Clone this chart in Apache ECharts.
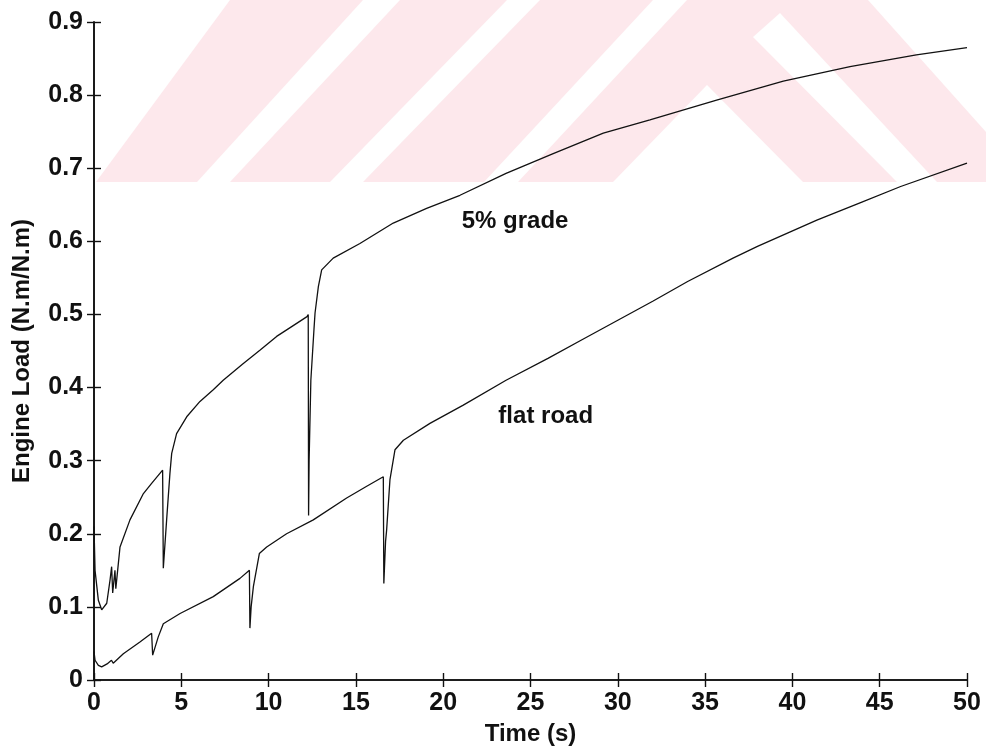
<!DOCTYPE html>
<html>
<head>
<meta charset="utf-8">
<script src="https://cdn.jsdelivr.net/npm/echarts@6/dist/echarts.min.js"></script>
<style>
  html, body { margin: 0; padding: 0; background: #ffffff; }
  #chart { width: 986px; height: 752px; }
</style>
</head>
<body>
<div id="chart"></div>
<script>
// Engine load vs. time for a vehicle accelerating on a 5% grade and on a flat road
const xTicks = [0, 5, 10, 15, 20, 25, 30, 35, 40, 45, 50];
const yTicks = [0, 0.1, 0.2, 0.3, 0.4, 0.5, 0.6, 0.7, 0.8, 0.9];

// 5% grade run
const timeGrade = [0, 0.06, 0.25, 0.44, 0.73, 0.92, 1.01, 1.07, 1.2, 1.25, 1.49, 2.06, 2.83, 3.3, 3.93, 3.97,
  4.16, 4.35, 4.45, 4.73, 5.31, 6.07, 6.83, 7.4, 8.5, 9.5, 10.46, 11.3, 12.2, 12.27, 12.29, 12.32, 12.42,
  12.6, 12.66, 12.85, 13.04, 13.7, 15.23, 17.14, 19.05, 20.96, 23.6, 26.3, 29.17, 31.84, 35.66, 39.48,
  43.3, 47.1, 50];
const loadGrade = [0.21, 0.15, 0.109, 0.096, 0.105, 0.137, 0.155, 0.119, 0.15, 0.125, 0.182, 0.219, 0.255,
  0.269, 0.287, 0.153, 0.219, 0.283, 0.31, 0.337, 0.36, 0.381, 0.397, 0.41, 0.432, 0.451, 0.47, 0.483,
  0.497, 0.5, 0.225, 0.3, 0.41, 0.48, 0.502, 0.538, 0.561, 0.577, 0.597, 0.625, 0.645, 0.663, 0.693, 0.72,
  0.748, 0.766, 0.793, 0.819, 0.839, 0.855, 0.865];

// flat road run
const timeFlat = [0, 0.06, 0.25, 0.44, 0.75, 1.0, 1.1, 1.68, 2.63, 3.3, 3.36, 3.5, 3.68, 3.97, 4.93, 6.83,
  8.36, 8.9, 8.93, 9.0, 9.13, 9.47, 9.89, 11.03, 12.56, 14.47, 15.62, 16.57, 16.6, 16.7, 16.76, 16.95,
  17.24, 17.72, 19.24, 21.15, 23.6, 26, 28, 30, 32, 34, 36.6, 38, 41.4, 43.8, 46.2, 50];
const loadFlat = [0.039, 0.027, 0.02, 0.018, 0.022, 0.027, 0.023, 0.036, 0.052, 0.064, 0.034, 0.045, 0.059,
  0.077, 0.091, 0.114, 0.139, 0.15, 0.071, 0.1, 0.128, 0.173, 0.182, 0.2, 0.219, 0.249, 0.265, 0.278,
  0.132, 0.19, 0.205, 0.274, 0.315, 0.328, 0.351, 0.376, 0.41, 0.44, 0.466, 0.492, 0.518, 0.545, 0.577,
  0.593, 0.629, 0.652, 0.675, 0.707];

// curve annotations: text, time, load (left edge, vertical centre)
const notes = [
  { text: '5% grade', t: 21.06, v: 0.627 },
  { text: 'flat road', t: 23.16, v: 0.36 }
];

const FONT = '"Liberation Sans", Arial, Helvetica, sans-serif';
const INK = '#111111';

function pairs(xs, ys) { return xs.map((x, i) => [x, ys[i]]); }

// faint striped emblem printed behind the plot
const PINK = '#fde8ec';
const emblem = [
  { type: 'polygon', shape: { points: [[96, 182], [230, 0], [868, 0], [986, 132], [986, 182]] }, style: { fill: PINK } },
  { type: 'polygon', shape: { points: [[197, 182], [230, 182], [400, 0], [363, 0]] }, style: { fill: '#fff' } },
  { type: 'polygon', shape: { points: [[330, 182], [363, 182], [540, 0], [507, 0]] }, style: { fill: '#fff' } },
  { type: 'polygon', shape: { points: [[484, 182], [518, 182], [687, 0], [653, 0]] }, style: { fill: '#fff' } },
  { type: 'polygon', shape: { points: [[613, 182], [707, 85], [803, 182]] }, style: { fill: '#fff' } },
  { type: 'polygon', shape: { points: [[753, 37], [780, 13], [937, 182], [897, 182]] }, style: { fill: '#fff' } }
];

const chart = echarts.init(document.getElementById('chart'), null, { renderer: 'canvas' });

const axisLine = { show: true, lineStyle: { color: INK, width: 1.6 } };
const tickStyle = { show: true, inside: true, length: 7, lineStyle: { color: INK, width: 1.4 } };
const titleStyle = { color: INK, fontFamily: FONT, fontWeight: 'bold', fontSize: 24 };
const tickLabelStyle = { color: INK, fontFamily: FONT, fontWeight: 'bold', fontSize: 25 };

chart.setOption({
  animation: false,
  backgroundColor: '#ffffff',
  grid: { left: 94, right: 19, top: 22, bottom: 72, containLabel: false },
  graphic: emblem.map(e => Object.assign({ z: -10, silent: true }, e)),
  xAxis: [
    {
      type: 'value', position: 'bottom', min: 0, max: 50, interval: 5,
      axisLine, axisTick: tickStyle, splitLine: { show: false },
      axisLabel: Object.assign({ margin: 11 }, tickLabelStyle),
      name: 'Time (s)', nameLocation: 'middle', nameGap: 42,
      nameTextStyle: titleStyle
    },
    {
      type: 'value', position: 'top', min: 0, max: 50, interval: 5,
      axisLine, axisTick: tickStyle, splitLine: { show: false }, axisLabel: { show: false }
    }
  ],
  yAxis: [
    {
      type: 'value', position: 'left', min: 0, max: 0.9, interval: 0.1,
      axisLine, axisTick: tickStyle, splitLine: { show: false },
      axisLabel: Object.assign({ margin: 11, formatter: v => (v === 0 ? '0' : v.toFixed(1)) }, tickLabelStyle),
      name: 'Engine Load (N.m/N.m)', nameLocation: 'middle', nameGap: 60,
      nameTextStyle: titleStyle
    },
    {
      type: 'value', position: 'right', min: 0, max: 0.9, interval: 0.1,
      axisLine, axisTick: tickStyle, splitLine: { show: false }, axisLabel: { show: false }
    }
  ],
  series: [
    {
      name: '5% grade', type: 'line', data: pairs(timeGrade, loadGrade),
      showSymbol: false, lineStyle: { color: INK, width: 1.3 }, z: 3
    },
    {
      name: 'flat road', type: 'line', data: pairs(timeFlat, loadFlat),
      showSymbol: false, lineStyle: { color: INK, width: 1.3 }, z: 3
    }
  ]
});

// place the curve annotations through the axes' own scales
const noteGraphics = notes.map(n => {
  const p = chart.convertToPixel({ gridIndex: 0 }, [n.t, n.v]);
  return {
    type: 'text', x: p[0], y: p[1], z: 5,
    style: { text: n.text, fill: INK, font: 'bold 24px ' + FONT, textAlign: 'left', textVerticalAlign: 'middle' }
  };
});
chart.setOption({ graphic: emblem.map(e => Object.assign({ z: -10, silent: true }, e)).concat(noteGraphics) });
</script>
</body>
</html>
